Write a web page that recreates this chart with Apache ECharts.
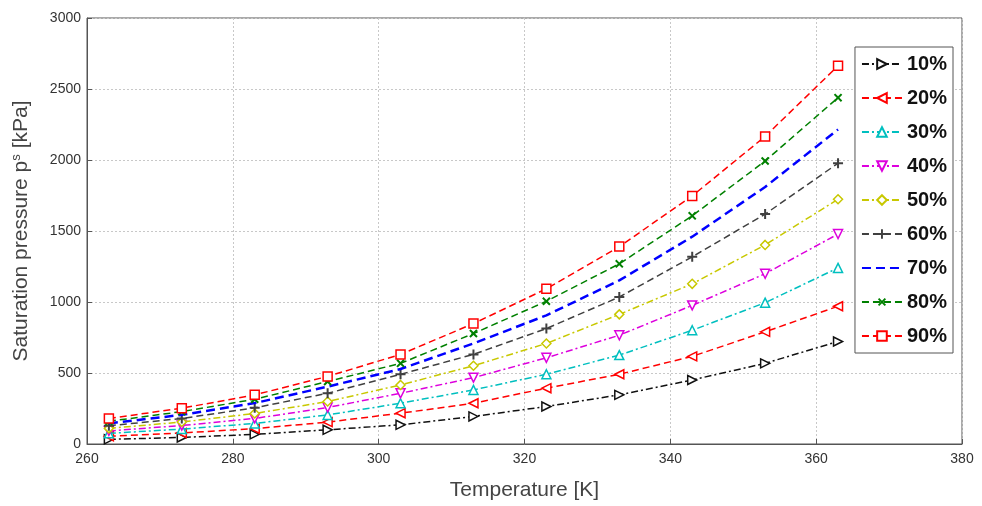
<!DOCTYPE html>
<html><head><meta charset="utf-8">
<script src="https://cdn.jsdelivr.net/npm/echarts@6/dist/echarts.min.js"></script>
<style>html,body{margin:0;padding:0;background:#fff}#c{width:982px;height:506px}</style>
</head><body><div id="c"></div>
<script>
const temps = [263, 273, 283, 293, 303, 313, 323, 333, 343, 353, 363];
const seriesNames = ['10%', '20%', '30%', '40%', '50%', '60%', '70%', '80%', '90%'];
const s10 = [33, 46, 68, 100, 135, 194, 264, 346, 451, 568, 722];
const s20 = [55, 78, 108, 154, 217, 287, 393, 491, 617, 790, 970];
const s30 = [75, 105, 145, 205, 287, 381, 491, 626, 801, 995, 1240];
const s40 = [92, 130, 180, 257, 357, 467, 607, 766, 976, 1199, 1479];
const s50 = [110, 155, 215, 299, 416, 551, 708, 913, 1128, 1402, 1724];
const s60 = [128, 180, 255, 357, 491, 631, 813, 1035, 1318, 1619, 1977];
const s70 = [145, 205, 288, 404, 528, 708, 906, 1152, 1460, 1810, 2215];
const s80 = [160, 228, 315, 440, 568, 778, 1005, 1269, 1607, 1993, 2439];
const s90 = [180, 252, 346, 476, 631, 848, 1093, 1390, 1747, 2166, 2663];
const allValues = [s10, s20, s30, s40, s50, s60, s70, s80, s90];

const plusPath = 'path://M4,0h2v4h4v2h-4v4h-2v-4h-4v-2h4z';
const styles = [
  {c:'#111111', sym:'triangle', rot:-90, dash:[7,3,2,3], hollow:true},
  {c:'#ff0000', sym:'triangle', rot:90, dash:[7,4], hollow:true},
  {c:'#00bfbf', sym:'triangle', rot:0, dash:[7,3,2,3], hollow:true},
  {c:'#dd00dd', sym:'triangle', rot:180, dash:[7,3,2,3], hollow:true},
  {c:'#c8c800', sym:'diamond', rot:0, dash:[7,3,2,3], hollow:true},
  {c:'#404040', sym:plusPath, rot:0, dash:[7,4], hollow:false},
  {c:'#0000ff', sym:'none', rot:0, dash:[9,5], hollow:false, w:2.5},
  {c:'#008000', sym:plusPath, rot:45, dash:[7,4], hollow:false},
  {c:'#ff0000', sym:'rect', rot:0, dash:[7,4], hollow:true}
];

const series = seriesNames.map((n, i) => {
  const st = styles[i];
  return {
    name: n, type: 'line',
    data: temps.map((t, j) => [t, allValues[i][j]]),
    symbol: st.sym, symbolRotate: st.rot,
    symbolSize: st.hollow ? 9 : 10,
    showSymbol: st.sym !== 'none',
    lineStyle: {color: st.c, width: st.w || 1.5, type: st.dash},
    itemStyle: st.hollow ? {color: '#ffffff', borderColor: st.c, borderWidth: 1.5}
                         : {color: st.c, borderWidth: 0},
    emphasis: {disabled: true},
    animation: false, z: 2 + i
  };
});

const legendData = seriesNames.map((n, i) => styles[i].sym === 'none'
  ? {name: n, itemStyle: {opacity: 0}} : {name: n});

const chart = echarts.init(document.getElementById('c'), null, {renderer: 'canvas'});
chart.setOption({
  animation: false,
  backgroundColor: '#ffffff',
  grid: {left: 87, right: 20, top: 18, bottom: 60, show: true, borderColor: '#555', borderWidth: 1},
  xAxis: {
    type: 'value', min: 260, max: 380, interval: 20,
    name: 'Temperature [K]', nameLocation: 'middle', nameGap: 36,
    nameTextStyle: {fontFamily: 'Liberation Sans', fontSize: 21, color: '#444'},
    axisLine: {show: true, lineStyle: {color: '#555'}},
    axisTick: {show: true, inside: true, length: 5, lineStyle: {color: '#555'}},
    axisLabel: {fontFamily: 'Liberation Sans', fontSize: 14, color: '#333', margin: 8,
      formatter: v => String(v)},
    splitLine: {show: true, lineStyle: {color: '#c8c8c8', type: [2, 2]}}
  },
  yAxis: {
    type: 'value', min: 0, max: 3000, interval: 500,
    name: 'Saturation pressure p{sup|s} [kPa]', nameLocation: 'middle', nameGap: 54,
    nameTextStyle: {fontFamily: 'Liberation Sans', fontSize: 21, color: '#444',
      rich: {sup: {fontFamily: 'Liberation Sans', fontSize: 13, color: '#444', verticalAlign: 'top', padding: [0, 0, 10, 0]}}},
    axisLine: {show: true, lineStyle: {color: '#555'}},
    axisTick: {show: true, inside: true, length: 5, lineStyle: {color: '#555'}},
    axisLabel: {fontFamily: 'Liberation Sans', fontSize: 14, color: '#333', margin: 6,
      formatter: v => String(v)},
    splitLine: {show: true, lineStyle: {color: '#c8c8c8', type: [2, 2]}}
  },
  legend: {
    orient: 'vertical', right: 29, top: 47,
    backgroundColor: '#ffffff', borderColor: '#555', borderWidth: 1,
    padding: [7, 6, 7, 6], itemGap: 14, itemWidth: 40, itemHeight: 12,
    textStyle: {fontFamily: 'Liberation Sans', fontSize: 20, fontWeight: 'bold', color: '#111'},
    data: legendData
  },
  series: series
});
</script></body></html>
